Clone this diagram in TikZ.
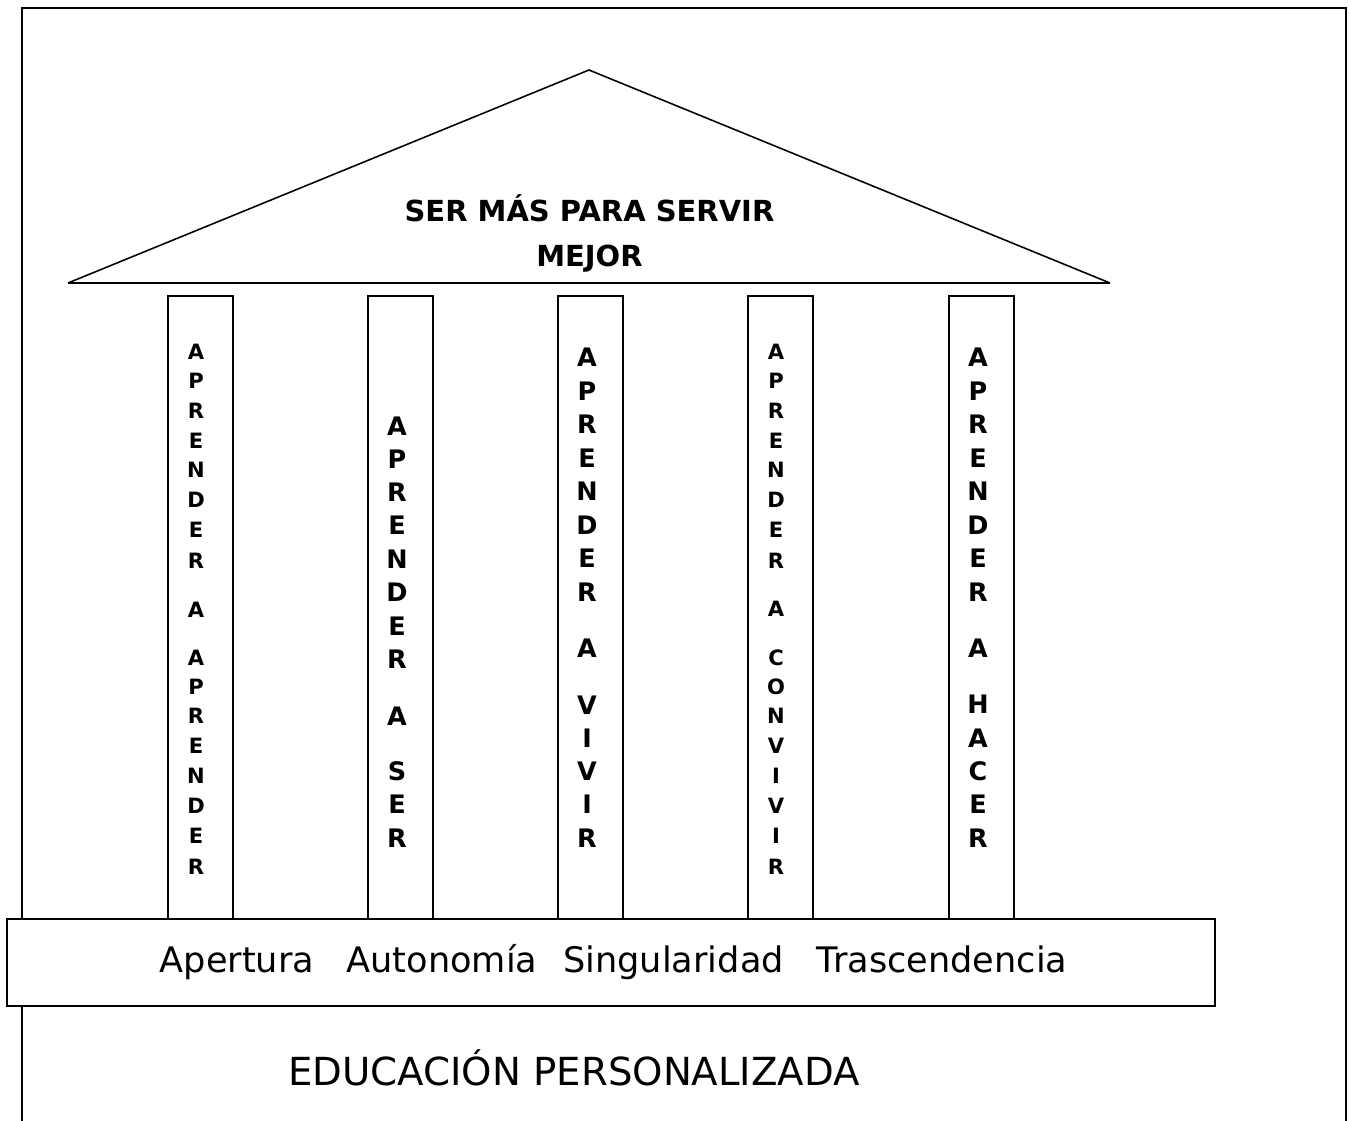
\documentclass[tikz,border=0pt]{standalone}
\usepackage{fontspec}
\setmainfont{DejaVu Sans}
\begin{document}
\begin{tikzpicture}[x=0.02cm,y=-0.02cm,
  frame/.style={line width=1.2pt},
  pillar/.style={draw,line width=0.8pt,fill=white,inner sep=0pt,minimum width=1.3cm,minimum height=12.46cm},
  basebox/.style={draw,line width=0.8pt,fill=white,inner sep=0pt,minimum width=24.16cm,minimum height=1.74cm},
  smallletter/.style={inner sep=0pt,font=\bfseries\fontsize{12}{14}\selectfont},
  bigletter/.style={inner sep=0pt,font=\bfseries\fontsize{14.5}{17}\selectfont},
  valuetext/.style={inner sep=0pt,anchor=base,font=\fontsize{20}{24}\selectfont},
  edutext/.style={inner sep=0pt,anchor=base,font=\fontsize{22}{26}\selectfont},
  titletext/.style={inner sep=0pt,anchor=base,font=\bfseries\fontsize{16.5}{19}\selectfont}]
\useasboundingbox (0,0) rectangle (1350,1121);
% outer frame (open at the bottom)
\coordinate (fBL) at (22,1121);
\coordinate (fTL) at (22,8);
\coordinate (fTR) at (1346,8);
\coordinate (fBR) at (1346,1121);
\draw[frame] (fBL) -- (fTL) -- (fTR) -- (fBR);
% roof
\coordinate (apex) at (589,70);
\coordinate (roofL) at (68,283);
\coordinate (roofR) at (1110,283);
\draw[line width=0.9pt] (roofL) -- (apex) -- (roofR);
\draw[line width=1.5pt] (roofL) -- (roofR);
\node[titletext] (t1) at (589.5,222) {SER MÁS PARA SERVIR};
\node[titletext] (t2) at (589.5,267) {MEJOR};
% pillars
\node[pillar] (p1) at (200.5,607.5) {};
\node[pillar] (p2) at (400.5,607.5) {};
\node[pillar] (p3) at (590.5,607.5) {};
\node[pillar] (p4) at (780.5,607.5) {};
\node[pillar] (p5) at (981.5,607.5) {};
% pillar 1
\foreach \y/\l [count=\i] in {352/A,381/P,411/R,441/E,470/N,500/D,530/E,561/R,610/A,658/A,687/P,716/R,746/E,776/N,806/D,836/E,867/R}
  \node[smallletter] (a\i) at (196,\y) {\l};
% pillar 2
\foreach \y/\l [count=\i] in {426/A,459/P,492/R,525/E,559/N,592/D,626/E,659/R,716/A,771/S,804/E,838/R}
  \node[bigletter] (b\i) at (397,\y) {\l};
% pillar 3
\foreach \y/\l [count=\i] in {357/A,391/P,424/R,458/E,491/N,525/D,558/E,592/R,648/A,705/V,738/I,771/V,804/I,838/R}
  \node[bigletter] (c\i) at (587,\y) {\l};
% pillar 4
\foreach \y/\l [count=\i] in {352/A,381/P,411/R,441/E,470/N,500/D,530/E,561/R,609/A,658/C,687/O,716/N,746/V,776/I,806/V,836/I,867/R}
  \node[smallletter] (d\i) at (776,\y) {\l};
% pillar 5
\foreach \y/\l [count=\i] in {357/A,391/P,424/R,458/E,491/N,525/D,558/E,592/R,648/A,704/H,738/A,771/C,804/E,838/R}
  \node[bigletter] (e\i) at (978,\y) {\l};
% base
\node[basebox] (base) at (611,962.5) {};
\node[valuetext] (v1) at (237,972) {Apertura};
\node[valuetext] (v2) at (442,972) {Autonomía};
\node[valuetext] (v3) at (673.5,972) {Singularidad};
\node[valuetext] (v4) at (942,972) {Trascendencia};
\node[edutext] (edu) at (574,1085) {EDUCACIÓN PERSONALIZADA};
\end{tikzpicture}
\end{document}
